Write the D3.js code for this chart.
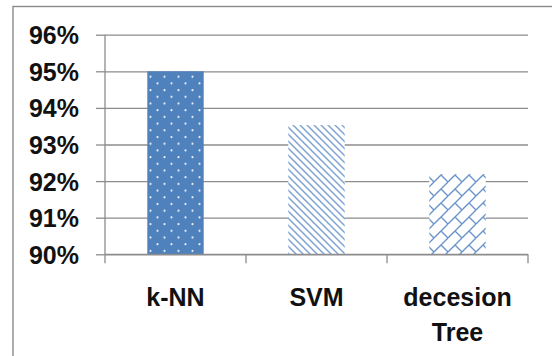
<!DOCTYPE html>
<html>
<head>
<meta charset="utf-8">
<script src="https://cdn.jsdelivr.net/npm/d3@7"></script>
<style>
  html, body { margin: 0; padding: 0; background: #fff; }
  svg { display: block; }
  text { font-family: "Liberation Sans", Arial, sans-serif; font-weight: bold; fill: #111; }
</style>
</head>
<body>
<svg id="chart" width="552" height="356"></svg>
<script>
// Classifier accuracy
const categories = ["k-NN", "SVM", "decesion Tree"];
const accuracy = [0.95, 0.9353, 0.9219];
const patterns = ["dots", "diag", "brick"];
const tickValues = [0.90, 0.91, 0.92, 0.93, 0.94, 0.95, 0.96];

const svg = d3.select("#chart");
const W = 552, H = 356;
const margin = { left: 105, right: 24, top: 34.7, bottom: 101.7 };

const blue = "#4F81BD";
const gridColor = "#8c8c8c";
const fontSize = 25;

// Chart frame
svg.append("rect")
  .attr("x", 13).attr("y", 6.5)
  .attr("width", W + 20).attr("height", H + 20)
  .attr("fill", "none").attr("stroke", "#8a8a8a").attr("stroke-width", 1.4);

// Fill patterns
const defs = svg.append("defs");

const pDots = defs.append("pattern")
  .attr("id", "dots").attr("patternUnits", "userSpaceOnUse")
  .attr("width", 14).attr("height", 13.4);
pDots.append("rect").attr("width", 14).attr("height", 13.4).attr("fill", blue);
pDots.append("circle").attr("cx", 3.5).attr("cy", 3).attr("r", 1.05).attr("fill", "#f2f5fa");
pDots.append("circle").attr("cx", 10.5).attr("cy", 9.7).attr("r", 1.05).attr("fill", "#f2f5fa");

const pDiag = defs.append("pattern")
  .attr("id", "diag").attr("patternUnits", "userSpaceOnUse")
  .attr("width", 7).attr("height", 7);
pDiag.append("rect").attr("width", 7).attr("height", 7).attr("fill", "#fff");
pDiag.append("path").attr("d", "M-1,-1 L8,8 M-1,6 L1,8 M6,-1 L8,1")
  .attr("stroke", "#7fa3d3").attr("stroke-width", 1.5);

const pBrick = defs.append("pattern")
  .attr("id", "brick").attr("patternUnits", "userSpaceOnUse")
  .attr("width", 14).attr("height", 14);
pBrick.append("rect").attr("width", 14).attr("height", 14).attr("fill", "#fff");
pBrick.append("path").attr("d", "M-1,15 L15,-1 M7,7 L14,14 M-1,1 L0,0")
  .attr("stroke", "#6a93cc").attr("stroke-width", 1.4).attr("fill", "none");

// Scales
const x = d3.scaleBand()
  .domain(categories)
  .range([margin.left, W - margin.right])
  .paddingInner(0.6).paddingOuter(0.3);
const xOuter = d3.scaleBand().domain(categories).range([margin.left, W - margin.right]);
const y = d3.scaleLinear()
  .domain([0.90, 0.96])
  .range([H - margin.bottom, margin.top]);

// Gridlines and value axis
const yAxis = d3.axisLeft(y)
  .tickValues(tickValues)
  .tickSize(-(W - margin.right - margin.left))
  .tickPadding(0)
  .tickFormat(d3.format(".0%"));
const gy = svg.append("g").attr("transform", `translate(${margin.left},0)`).call(yAxis);
gy.select(".domain").remove();
gy.selectAll(".tick line").attr("stroke", gridColor).attr("stroke-width", 1.3);
gy.selectAll(".tick").append("line")
  .attr("x1", -9).attr("x2", 0)
  .attr("stroke", gridColor).attr("stroke-width", 1.3);
gy.selectAll(".tick text")
  .attr("x", -26).attr("dy", "0.36em")
  .attr("font-size", fontSize).attr("font-family", null).attr("fill", "#111");
svg.append("line")
  .attr("x1", margin.left).attr("x2", margin.left)
  .attr("y1", y(0.96)).attr("y2", y(0.90))
  .attr("stroke", gridColor).attr("stroke-width", 1.3);

// Bars
svg.append("g").selectAll("rect")
  .data(categories)
  .join("rect")
  .attr("x", d => x(d))
  .attr("width", x.bandwidth())
  .attr("y", (d, i) => y(accuracy[i]))
  .attr("height", (d, i) => y(0.90) - y(accuracy[i]))
  .attr("fill", (d, i) => `url(#${patterns[i]})`);

// Category axis
const gx = svg.append("g").attr("transform", `translate(0,${y(0.90)})`);
gx.append("line")
  .attr("x1", margin.left).attr("x2", W - margin.right)
  .attr("stroke", gridColor).attr("stroke-width", 1.3);
const bounds = categories.map(c => xOuter(c)).concat([W - margin.right]);
gx.selectAll(".xt").data(bounds).join("line")
  .attr("x1", d => d).attr("x2", d => d)
  .attr("y1", 0).attr("y2", 9)
  .attr("stroke", gridColor).attr("stroke-width", 1.3);

const labels = gx.selectAll(".lbl").data(categories).join("text")
  .attr("text-anchor", "middle")
  .attr("font-size", fontSize)
  .attr("transform", d => `translate(${xOuter(d) + xOuter.bandwidth() / 2},51.5)`);
labels.each(function(d) {
  const words = d.split(" ");
  d3.select(this).selectAll("tspan").data(words).join("tspan")
    .attr("x", 0).attr("y", (w, i) => i * 35.5)
    .text(w => w);
});
</script>
</body>
</html>
